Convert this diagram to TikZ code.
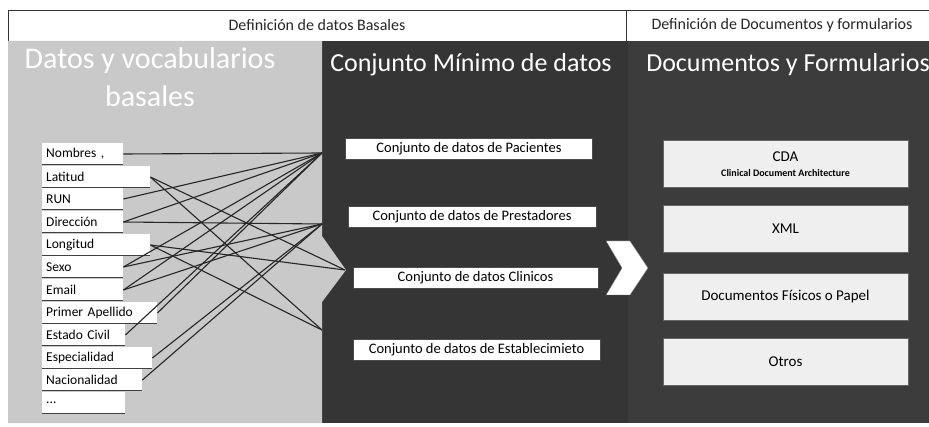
\documentclass[tikz,border=0pt]{standalone}
\usepackage{fontspec}
\setmainfont{Carlito}
\usetikzlibrary{positioning}

\definecolor{panelclaro}{HTML}{C9C9C9}
\definecolor{paneloscuro}{HTML}{353535}
\definecolor{panelderecho}{HTML}{3C3C3C}
\definecolor{cajaclara}{HTML}{EFEFEF}

\begin{document}
\begin{tikzpicture}[x=1pt,y=-1pt,
    dato/.style={anchor=west, fill=white, inner xsep=4pt, inner ysep=1pt, text width=#1, align=left,
      minimum height=21pt, font=\fontsize{13.5}{15}\selectfont,
      path picture={\draw[black!75, line width=1.4pt] (path picture bounding box.south west) -- (path picture bounding box.south east);}},
    conjunto/.style={draw=black!70, fill=white, inner ysep=1pt, minimum height=21pt, font=\fontsize{14.5}{16}\selectfont},
    documento/.style={draw=black!60, fill=cajaclara, minimum width=245pt, minimum height=47pt, align=center, font=\fontsize{15}{17}\selectfont},
    titulo/.style={text=white, align=center, font=\fontsize{26}{30}\selectfont},
    linea/.style={black!85, line width=1.1pt}]
  \useasboundingbox (0,0) rectangle (929,427);

  % cabecera
  \draw[black!80, fill=white] (8,10) rectangle (626,41);
  \draw[black!80, fill=white] (626,10) rectangle (929,41);
  \node[font=\fontsize{16}{18}\selectfont, text=black!85] (cabBasales) at (317,25) {Definición de datos Basales};
  \node[font=\fontsize{16}{18}\selectfont, text=black!85] (cabDocumentos) at (782,25) {Definición de Documentos y formularios};

  % paneles
  \fill[paneloscuro] (322,41) rectangle (628,423);
  \fill[panelderecho] (628,41) rectangle (929,423);
  \fill[panelclaro] (8,41) -- (322,41) -- (322,236) -- (346,270) -- (322,302) -- (322,423) -- (8,423) -- cycle;
  \filldraw[fill=white, draw=black!60] (606,241) -- (630,241) -- (648,268) -- (630,295) -- (606,295) -- (622,268) -- cycle;

  % titulos
  \node[titulo, font=\fontsize{30}{38}\selectfont] (tituloBasales) at (150,77) {Datos y vocabularios\\basales};
  \node[titulo] (tituloMinimo) at (471,65) {Conjunto Mínimo de datos};
  \node[titulo] (tituloDocumentos) at (788,65) {Documentos y Formularios};

  % datos basales
  \node[dato=73pt] (nombres) at (42,154) {Nombres ,};
  \node[dato=100pt] (latitud) at (42,177) {Latitud};
  \node[dato=73pt] (run) at (42,199) {RUN};
  \node[dato=73pt] (direccion) at (42,222) {Dirección};
  \node[dato=100pt] (longitud) at (42,245) {Longitud};
  \node[dato=73pt] (sexo) at (42,267) {Sexo};
  \node[dato=73pt] (email) at (42,290) {Email};
  \node[dato=107pt] (apellido) at (42,313) {Primer Apellido};
  \node[dato=75pt] (civil) at (42,335) {Estado Civil};
  \node[dato=102pt] (especialidad) at (42,358) {Especialidad};
  \node[dato=92pt] (nacionalidad) at (42,380) {Nacionalidad};
  \node[dato=75pt] (otrosDatos) at (42,403) {...};

  % conjunto minimo
  \node[conjunto, minimum width=247pt] (pacientes) at (469,149) {Conjunto de datos de Pacientes};
  \node[conjunto, minimum width=248pt] (prestadores) at (472,216.5) {Conjunto de datos de Prestadores};
  \node[conjunto, minimum width=245pt] (clinicos) at (475.5,277.5) {Conjunto de datos Clinicos};
  \node[conjunto, minimum width=247pt] (establecimiento) at (476.5,349.5) {Conjunto de datos de Establecimieto};

  % documentos
  \node[documento] (cda) at (785.5,164) {CDA\\[-2pt]{\fontsize{10}{12}\selectfont\bfseries Clinical Document Architecture}};
  \node[documento] (xml) at (785.5,229) {XML};
  \node[documento] (fisicos) at (785.5,297) {Documentos Físicos o Papel};
  \node[documento] (otrosDoc) at (785.5,361.5) {Otros};

  % entradas
  \coordinate (inPacientes) at (322,153);
  \coordinate (inPrestadores) at (322,224);
  \coordinate (inClinicos) at (345,270);
  \coordinate (inEstablecimiento) at (322,330);

  % relaciones
  \draw[linea] (nombres.east) -- (inPacientes);
  \draw[linea] (run.east) -- (inPacientes);
  \draw[linea] (direccion.east) -- (inPacientes);
  \draw[linea] (direccion.east) -- (inPrestadores);
  \draw[linea] (latitud.east) -- (inClinicos);
  \draw[linea] (latitud.east) -- (inEstablecimiento);
  \draw[linea] (longitud.east) -- (inClinicos);
  \draw[linea] (longitud.east) -- (inEstablecimiento);
  \draw[linea] (sexo.east) -- (inPacientes);
  \draw[linea] (sexo.east) -- (inPrestadores);
  \draw[linea] (email.east) -- (inPacientes);
  \draw[linea] (email.east) -- (inPrestadores);
  \draw[linea] (apellido.east) -- (inPacientes);
  \draw[linea] (civil.east) -- (inPacientes);
  \draw[linea] (especialidad.east) -- (inPrestadores);
  \draw[linea] (nacionalidad.east) -- (inPrestadores);
\end{tikzpicture}
\end{document}
